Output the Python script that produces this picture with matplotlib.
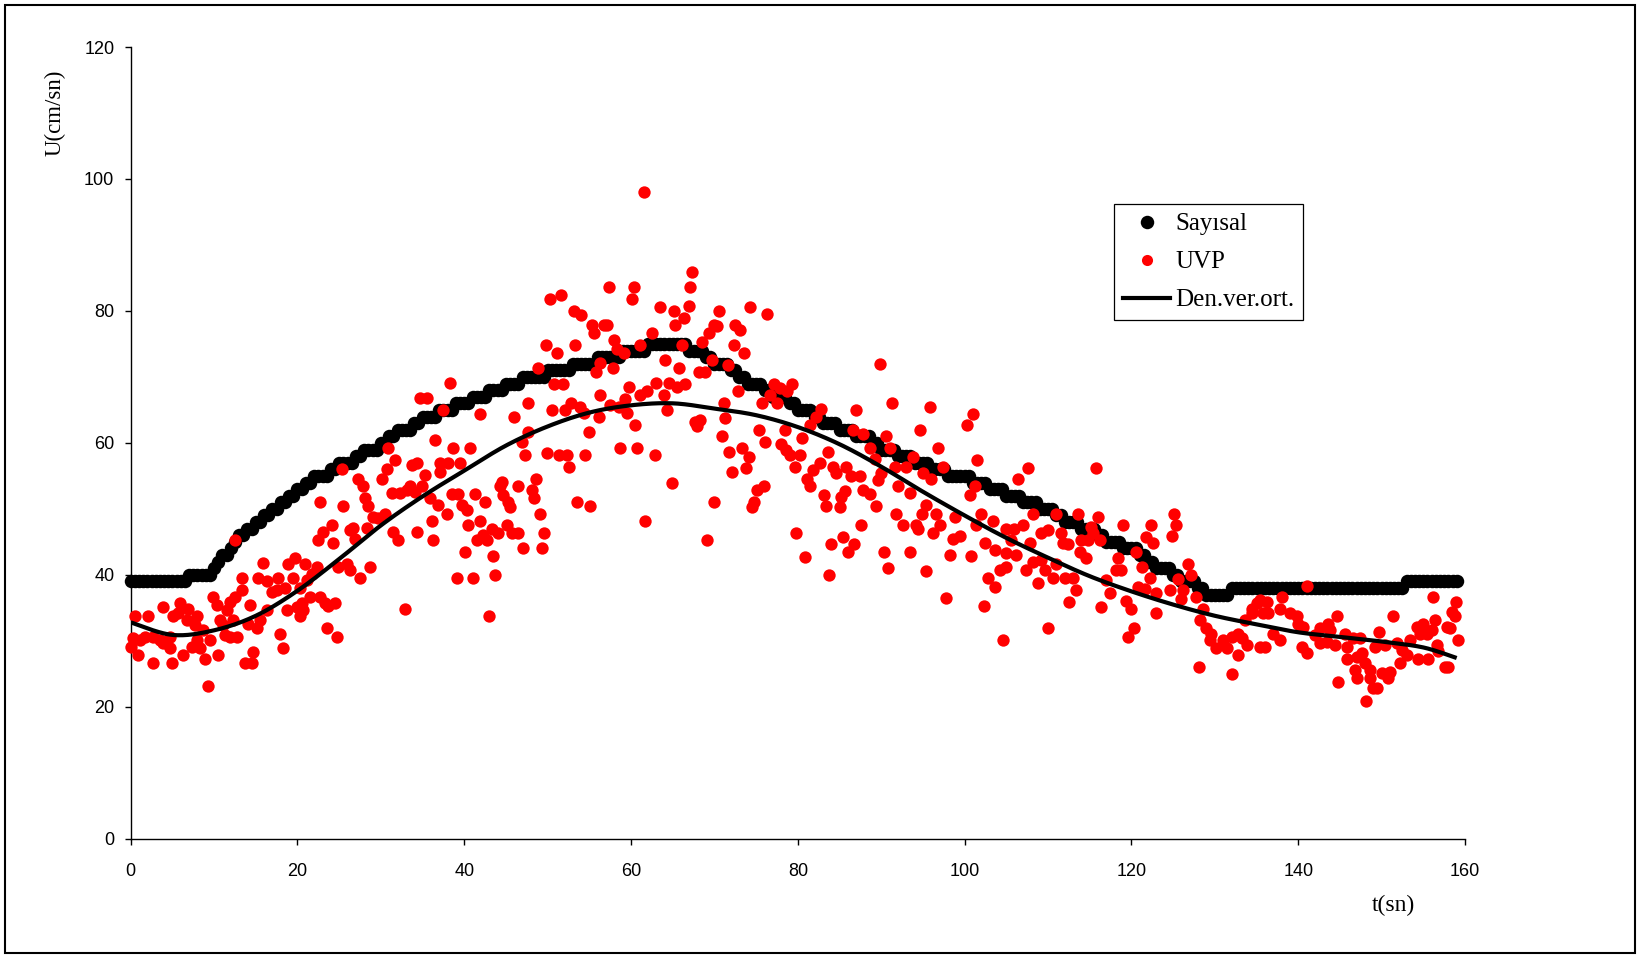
import numpy as np
import matplotlib
matplotlib.use("Agg")
import matplotlib.pyplot as plt
from matplotlib.lines import Line2D
from matplotlib.patches import Rectangle

# ---- Sayısal (numerical model), sampled every 0.5 s from t = 0 to 159 s ----
sayisal_dt = 0.5
sayisal_u = [
    39, 39, 39, 39, 39, 39, 39, 39, 39, 39, 39, 39, 39, 39, 40, 40, 40, 40, 40, 40,
    41, 42, 43, 43, 44, 45, 46, 46, 47, 47, 48, 48, 49, 49, 50, 50, 51, 51, 52, 52,
    53, 53, 54, 54, 55, 55, 55, 55, 56, 56, 57, 57, 57, 57, 58, 58, 59, 59, 59, 59,
    60, 60, 61, 61, 62, 62, 62, 62, 63, 63, 64, 64, 64, 64, 65, 65, 65, 65, 66, 66,
    66, 66, 67, 67, 67, 67, 68, 68, 68, 68, 69, 69, 69, 69, 70, 70, 70, 70, 70, 70,
    71, 71, 71, 71, 71, 71, 72, 72, 72, 72, 72, 72, 73, 73, 73, 73, 73, 73, 74, 74,
    74, 74, 74, 74, 75, 75, 75, 75, 75, 75, 75, 75, 75, 75, 74, 74, 74, 74, 73, 73,
    72, 72, 72, 72, 71, 71, 70, 70, 69, 69, 69, 69, 68, 68, 67, 67, 67, 67, 66, 66,
    65, 65, 65, 65, 64, 64, 63, 63, 63, 63, 62, 62, 62, 62, 61, 61, 61, 61, 60, 60,
    59, 59, 59, 59, 58, 58, 58, 58, 57, 57, 57, 57, 56, 56, 56, 56, 55, 55, 55, 55,
    55, 55, 54, 54, 54, 54, 53, 53, 53, 53, 52, 52, 52, 52, 51, 51, 51, 51, 50, 50,
    50, 50, 49, 49, 48, 48, 48, 48, 47, 47, 47, 47, 46, 46, 45, 45, 45, 45, 44, 44,
    44, 44, 43, 43, 42, 42, 41, 41, 41, 41, 40, 40, 39, 39, 39, 39, 38, 38, 37, 37,
    37, 37, 37, 37, 38, 38, 38, 38, 38, 38, 38, 38, 38, 38, 38, 38, 38, 38, 38, 38,
    38, 38, 38, 38, 38, 38, 38, 38, 38, 38, 38, 38, 38, 38, 38, 38, 38, 38, 38, 38,
    38, 38, 38, 38, 38, 38, 39, 39, 39, 39, 39, 39, 39, 39, 39, 39, 39, 39, 39,
]
sayisal_t = [i * sayisal_dt for i in range(len(sayisal_u))]

# ---- UVP measurements (t [s], U [cm/s]) grouped by time window ----
uvp_0_35 = [
    (30.9, 59.2), (31.7, 57.4), (25.3, 56.1), (33.7, 56.6), (34.3, 56.9), (30.7, 56.1),
    (27.3, 54.6), (27.9, 53.4), (30.1, 54.5), (33.5, 53.4), (34.1, 52.6), (22.7, 51.1),
    (25.5, 50.4), (28.1, 51.6), (28.5, 50.4), (31.3, 52.4), (32.3, 52.4), (33.1, 52.9),
    (12.5, 45.3), (24.1, 47.6), (23.1, 46.5), (22.5, 45.3), (24.3, 44.8), (26.3, 46.8),
    (26.7, 47.1), (26.9, 45.5), (28.3, 47.1), (29.1, 48.8), (29.7, 48.6), (30.5, 49.3),
    (31.5, 46.5), (32.1, 45.3), (34.3, 46.5), (15.9, 41.8), (18.9, 41.7), (19.7, 42.5),
    (20.9, 41.7), (22.3, 41.2), (21.7, 40.2), (24.9, 41.2), (25.9, 41.7), (26.3, 40.7),
    (27.5, 39.5), (28.7, 41.2), (13.3, 39.5), (15.3, 39.5), (16.3, 39.0), (17.7, 39.5),
    (19.5, 39.5), (18.5, 38.0), (16.9, 37.4), (17.5, 37.7), (20.3, 38.0), (21.1, 39.2),
    (13.3, 37.7), (12.5, 36.7), (9.9, 36.7), (10.3, 35.4), (11.9, 35.9), (11.5, 34.7),
    (12.3, 33.2), (14.3, 35.4), (16.3, 34.7), (18.7, 34.7), (19.9, 35.2), (20.5, 35.7),
    (20.7, 34.7), (20.3, 33.7), (22.7, 36.7), (23.3, 35.7), (23.7, 35.3), (24.5, 35.8),
    (21.5, 36.7), (32.9, 34.8), (0.5, 33.7), (2.1, 33.7), (3.9, 35.2), (5.1, 33.7),
    (5.9, 35.7), (6.9, 34.9), (5.7, 34.2), (7.9, 33.7), (8.7, 31.6), (10.7, 33.2),
    (11.1, 32.4), (15.5, 33.2), (15.1, 31.9), (14.1, 32.6), (17.9, 31.1), (11.9, 30.6),
    (12.7, 30.6), (11.3, 30.9), (9.5, 30.1), (23.5, 31.9), (24.7, 30.6), (18.3, 28.9),
    (14.7, 28.3), (13.7, 26.7), (14.5, 26.7), (10.5, 27.8), (8.9, 27.3), (6.3, 27.8),
    (4.9, 26.7), (2.7, 26.7), (0.9, 27.8), (0.0, 29.1), (1.1, 30.1), (2.7, 30.6),
    (3.9, 29.6), (4.7, 28.9), (7.3, 29.1), (8.3, 28.9), (7.9, 30.1), (9.3, 23.1),
    (7.7, 32.4), (6.7, 33.2), (4.7, 30.6), (3.5, 30.1), (1.7, 30.6), (0.3, 30.4),
]
uvp_35_70_low = [
    (38.3, 69.1), (34.7, 66.8), (35.5, 66.8), (37.5, 65.0), (41.9, 64.4), (67.7, 63.2),
    (68.3, 63.5), (67.9, 62.5), (47.7, 61.6), (54.9, 61.6), (60.5, 62.7), (36.5, 60.4),
    (38.7, 59.2), (40.7, 59.2), (46.9, 60.2), (49.9, 58.5), (51.3, 58.1), (52.3, 58.1),
    (52.5, 56.4), (54.5, 58.1), (47.3, 58.1), (58.7, 59.2), (60.7, 59.2), (62.9, 58.1),
    (37.1, 56.9), (38.1, 56.9), (39.5, 56.9), (35.3, 55.1), (37.1, 55.6), (34.9, 53.4),
    (35.9, 51.6), (36.9, 50.6), (37.9, 49.3), (38.5, 52.3), (39.3, 52.3), (41.3, 52.3),
    (39.7, 50.6), (40.3, 49.8), (42.5, 51.0), (44.3, 53.4), (44.5, 54.1), (44.7, 52.1),
    (45.3, 51.1), (45.5, 50.3), (46.5, 53.4), (48.1, 52.9), (48.3, 51.6), (48.6, 54.5),
    (49.1, 49.3), (53.5, 51.0), (55.1, 50.5), (64.9, 54.0), (61.7, 48.1), (69.1, 45.3),
    (36.1, 48.1), (36.3, 45.3), (40.5, 47.6), (41.9, 48.1), (40.1, 43.5), (41.5, 45.3),
    (42.7, 45.3), (42.3, 46.0), (43.3, 47.0), (44.1, 46.4), (45.1, 47.6), (45.7, 46.4),
    (46.5, 46.4), (47.1, 44.0), (49.3, 44.0), (49.5, 46.4), (43.5, 42.9), (39.1, 39.5),
    (41.0, 39.5), (43.7, 40.0), (43.0, 33.7),
]
uvp_45_70_high = [
    (61.5, 98.1), (67.3, 85.9), (67.1, 83.6), (60.3, 83.6), (60.1, 81.8), (57.3, 83.6),
    (50.3, 81.8), (51.6, 82.4), (53.1, 80.0), (54.0, 79.4), (55.3, 77.9), (55.6, 76.6),
    (56.7, 77.9), (57.1, 77.8), (63.5, 80.6), (65.1, 80.0), (66.9, 80.7), (66.3, 79.0),
    (65.3, 77.8), (69.3, 76.6), (68.5, 75.3), (62.5, 76.6), (61.1, 74.8), (66.1, 74.8),
    (49.8, 74.8), (51.1, 73.7), (53.3, 74.8), (58.0, 75.6), (58.3, 74.3), (59.1, 73.7),
    (48.8, 71.4), (56.3, 72.1), (55.8, 70.8), (57.8, 71.3), (64.1, 72.6), (65.7, 71.4),
    (68.1, 70.8), (68.9, 70.8), (50.7, 69.0), (51.8, 69.0), (59.8, 68.5), (63.0, 69.1),
    (64.5, 69.1), (65.5, 68.4), (66.5, 69.0), (61.1, 67.3), (61.9, 67.8), (63.9, 67.3),
    (56.3, 67.3), (47.6, 66.1), (50.5, 65.0), (52.1, 65.0), (52.8, 66.1), (53.9, 65.5),
    (59.3, 66.7), (46.0, 64.0), (64.3, 65.0), (56.1, 63.9), (59.5, 64.5), (54.3, 64.5),
    (57.5, 65.7), (58.5, 65.5),
]
uvp_70_102 = [
    (70.6, 80.0), (74.3, 80.6), (76.3, 79.5), (69.9, 77.9), (70.3, 77.7), (72.5, 77.9),
    (73.1, 77.1), (72.3, 74.8), (73.5, 73.7), (69.7, 72.6), (71.6, 71.8), (72.8, 67.9),
    (77.1, 68.9), (77.8, 68.3), (79.3, 69.0), (78.7, 67.8), (76.7, 67.3), (75.7, 66.1),
    (77.5, 66.1), (71.1, 66.1), (89.8, 71.9), (82.8, 65.1), (82.2, 64.0), (81.5, 62.7),
    (87.0, 65.0), (91.3, 66.1), (95.8, 65.5), (101.0, 64.4), (100.3, 62.7), (71.3, 63.8),
    (70.9, 61.0), (75.3, 62.0), (76.0, 60.2), (78.5, 62.0), (80.5, 60.7), (86.6, 61.9),
    (87.8, 61.4), (90.6, 61.0), (94.6, 61.9), (91.0, 59.2), (88.6, 59.2), (89.2, 57.5),
    (91.6, 56.4), (93.0, 56.4), (93.8, 57.9), (96.8, 59.2), (95.0, 55.4), (96.0, 54.6),
    (97.4, 56.4), (101.5, 57.4), (100.6, 52.1), (101.2, 53.4), (71.8, 58.6), (73.3, 59.2),
    (74.1, 57.9), (72.1, 55.6), (73.8, 56.2), (78.0, 59.9), (78.6, 58.9), (79.1, 58.1),
    (80.2, 58.1), (79.6, 56.3), (81.1, 54.6), (81.5, 53.4), (81.8, 55.9), (82.6, 57.0),
    (83.6, 58.6), (84.2, 56.4), (84.6, 55.4), (85.8, 56.4), (86.4, 55.0), (87.4, 55.0),
    (89.6, 54.4), (90.0, 55.4), (92.0, 53.4), (93.4, 52.4), (95.4, 50.6), (94.9, 49.3),
    (96.6, 49.3), (96.2, 46.4), (97.0, 47.5), (98.6, 45.5), (99.5, 45.9), (98.8, 48.8),
    (101.4, 47.5), (100.8, 42.9), (75.1, 52.9), (75.9, 53.4), (74.7, 51.1), (74.5, 50.3),
    (70.0, 51.1), (79.8, 46.4), (80.8, 42.7), (83.1, 52.1), (83.4, 50.4), (85.0, 50.3),
    (85.2, 51.8), (85.6, 52.7), (87.8, 52.9), (88.6, 52.3), (89.4, 50.4), (87.6, 47.5),
    (85.4, 45.8), (84.0, 44.7), (86.7, 44.7), (86.0, 43.5), (90.3, 43.5), (93.4, 43.5),
    (91.8, 49.3), (92.6, 47.5), (94.2, 47.5), (94.4, 46.9), (98.2, 43.0), (83.7, 40.0),
]
uvp_90_123 = [
    (107.6, 56.2), (106.4, 54.5), (115.8, 56.2), (102.0, 49.3), (103.4, 48.2), (105.0, 47.0),
    (105.9, 47.0), (107.0, 47.6), (105.6, 45.3), (108.2, 49.3), (111.0, 49.3), (113.6, 49.3),
    (116.0, 48.8), (119.0, 47.6), (122.3, 47.6), (121.8, 45.8), (122.6, 44.8), (120.5, 43.5),
    (121.3, 41.2), (122.2, 39.5), (109.2, 46.4), (110.0, 46.8), (111.6, 46.4), (111.8, 44.8),
    (112.4, 44.7), (107.8, 44.8), (114.0, 45.3), (114.8, 45.3), (115.4, 46.4), (115.1, 47.3),
    (113.8, 43.5), (114.6, 42.5), (116.2, 45.3), (118.4, 42.5), (118.1, 40.7), (118.8, 40.7),
    (117.0, 39.2), (117.4, 37.2), (116.4, 35.2), (119.4, 36.1), (120.0, 34.8), (120.8, 38.2),
    (121.6, 37.9), (123.0, 37.2), (123.0, 34.2), (120.3, 31.9), (119.6, 30.6), (102.4, 44.8),
    (103.6, 43.8), (105.0, 43.3), (106.2, 43.0), (104.2, 40.7), (102.8, 39.5), (103.6, 38.2),
    (105.0, 41.2), (107.4, 40.7), (108.2, 42.0), (109.2, 42.3), (109.6, 40.7), (110.6, 39.5),
    (108.8, 38.8), (111.0, 41.7), (112.0, 39.5), (113.0, 39.5), (113.4, 37.7), (112.5, 35.9),
    (97.8, 36.5), (102.3, 35.3), (110.0, 31.9), (104.6, 30.1), (95.4, 40.6), (90.8, 41.1),
]
uvp_123_141 = [
    (125.1, 49.3), (125.4, 47.5), (124.9, 45.9), (126.8, 41.7), (127.1, 40.0), (125.6, 39.4),
    (124.6, 37.7), (126.2, 37.7), (126.0, 36.4), (127.8, 36.7), (128.6, 34.9), (128.2, 33.2),
    (129.0, 31.9), (129.6, 31.1), (129.4, 30.1), (130.2, 28.9), (131.0, 30.1), (131.4, 28.9),
    (132.0, 30.6), (132.8, 31.1), (133.2, 30.4), (132.8, 27.8), (133.8, 29.4), (133.6, 33.2),
    (134.4, 34.2), (135.0, 35.7), (135.4, 36.2), (136.2, 35.9), (134.4, 34.9), (135.8, 34.2),
    (136.4, 34.2), (135.4, 29.1), (136.0, 29.1), (137.0, 31.1), (137.8, 30.1), (138.0, 36.7),
    (137.8, 34.9), (139.0, 34.2), (139.8, 33.7), (140.0, 32.6), (140.6, 32.1), (140.4, 29.1),
    (141.0, 28.1), (128.1, 26.1), (132.1, 25.0), (141.0, 38.3),
]
uvp_141_160 = [
    (144.6, 33.7), (143.6, 32.6), (142.6, 31.9), (143.8, 31.6), (142.0, 30.9), (142.6, 29.6),
    (143.4, 29.9), (145.6, 31.1), (146.6, 30.4), (147.4, 30.4), (145.8, 29.1), (144.4, 29.4),
    (144.8, 23.8), (145.8, 27.3), (147.0, 27.6), (147.6, 28.1), (148.0, 26.6), (146.8, 25.6),
    (147.0, 24.3), (148.6, 25.6), (148.6, 24.3), (149.0, 22.8), (149.4, 22.8), (148.1, 20.9),
    (149.7, 31.4), (149.2, 29.1), (150.4, 29.4), (150.0, 25.1), (151.0, 25.3), (150.8, 24.3),
    (151.4, 33.7), (151.8, 29.6), (152.4, 28.6), (152.2, 26.6), (153.0, 27.9), (153.4, 30.1),
    (154.2, 32.1), (154.6, 31.1), (155.0, 32.6), (155.4, 31.1), (156.0, 31.6), (154.4, 27.3),
    (155.6, 27.3), (156.2, 36.7), (156.4, 33.2), (156.6, 29.4), (156.8, 28.4), (157.6, 26.1),
    (158.0, 26.1), (157.8, 32.1), (158.2, 31.9), (158.9, 35.9), (158.4, 34.4), (158.8, 33.7),
    (159.2, 30.1),
]

# ---- Den.ver.ort. (experimental average curve) ----
avg_t = [0, 5, 10, 15, 20, 25, 30, 35, 40, 45, 50, 55, 60, 65, 70, 75, 80, 85,
         90, 95, 100, 105, 110, 115, 120, 125, 130, 135, 140, 145, 150, 155, 159]
avg_u = [32.8, 30.9, 31.6, 33.8, 37.6, 42.4, 47.5, 51.9, 55.8, 59.6, 62.5, 64.6,
         65.7, 66.0, 65.2, 64.2, 62.4, 59.8, 56.4, 52.6, 49.0, 45.6, 42.6, 39.8,
         37.5, 35.5, 33.8, 32.5, 31.3, 30.6, 29.9, 29.0, 27.4]

x_ticks = [0, 20, 40, 60, 80, 100, 120, 140, 160]
y_ticks = [0, 20, 40, 60, 80, 100, 120]


def smooth_curve(x, y, n=24):
    """Catmull-Rom smoothing through the given points (spreadsheet-style smoothed line)."""
    p = np.column_stack([x, y]).astype(float)
    p = np.vstack([p[0], p, p[-1]])
    out = []
    s = np.linspace(0, 1, n, endpoint=False)[:, None]
    for i in range(1, len(p) - 2):
        p0, p1, p2, p3 = p[i - 1], p[i], p[i + 1], p[i + 2]
        seg = 0.5 * ((2 * p1) + (-p0 + p2) * s + (2 * p0 - 5 * p1 + 4 * p2 - p3) * s ** 2
                     + (-p0 + 3 * p1 - 3 * p2 + p3) * s ** 3)
        out.append(seg)
    out.append(p[-2][None, :])
    out = np.vstack(out)
    return out[:, 0], out[:, 1]


uvp_all = (uvp_0_35 + uvp_35_70_low + uvp_45_70_high + uvp_70_102
           + uvp_90_123 + uvp_123_141 + uvp_141_160)
uvp_t = [p[0] for p in uvp_all]
uvp_u = [p[1] for p in uvp_all]

fig = plt.figure(figsize=(16.4, 9.56), dpi=100)
ax = fig.add_axes([0.0797, 0.1226, 0.8136, 0.8282])

ax.plot(sayisal_t, sayisal_u, linestyle="None", marker="o", markersize=9.7,
        color="black", markeredgewidth=0, clip_on=False, zorder=2)
ax.plot(uvp_t, uvp_u, linestyle="None", marker="o", markersize=8.9,
        color="#ff0000", markeredgewidth=0, clip_on=False, zorder=3)
sx, sy = smooth_curve(avg_t, avg_u)
ax.plot(sx, sy, color="black", linewidth=3.0, solid_capstyle="butt", zorder=4)

ax.set_xlim(0, 160)
ax.set_ylim(0, 120)
ax.set_xticks(x_ticks)
ax.set_yticks(y_ticks)
for side in ("top", "right"):
    ax.spines[side].set_visible(False)
for side in ("left", "bottom"):
    ax.spines[side].set_linewidth(1.0)
    ax.spines[side].set_color("black")
ax.tick_params(axis="both", direction="out", length=4.3, width=1.0, color="black",
               labelsize=13, labelcolor="black")
ax.tick_params(axis="y", pad=7.5)
ax.tick_params(axis="x", pad=13)
for lab in ax.get_xticklabels() + ax.get_yticklabels():
    lab.set_fontfamily("Liberation Sans")

serif = "Liberation Serif"
ax.text(-0.0567, 0.9166, "U(cm/sn)", transform=ax.transAxes, rotation=90,
        ha="center", va="center", fontsize=16.5, fontfamily=serif)
ax.text(0.946, -0.0836, "t(sn)", transform=ax.transAxes,
        ha="center", va="center", fontsize=17, fontfamily=serif)

handles = [
    Line2D([], [], linestyle="None", marker="o", markersize=9.7, color="black",
           markeredgewidth=0),
    Line2D([], [], linestyle="None", marker="o", markersize=8.0, color="#ff0000",
           markeredgewidth=0),
    Line2D([], [], color="black", linewidth=3.0),
]
leg = ax.legend(handles, ["Sayısal", "UVP", "Den.ver.ort."], loc="upper left",
                bbox_to_anchor=(0.737, 0.8017), borderaxespad=0, frameon=True,
                fancybox=False, framealpha=1, edgecolor="black",
                prop={"family": serif, "size": 18}, handlelength=1.9,
                handletextpad=0.2, labelspacing=0.62, borderpad=0.35)
leg.get_frame().set_linewidth(0.9)

fig.add_artist(Rectangle((0.003, 0.003), 0.994, 0.992, transform=fig.transFigure,
                         fill=False, edgecolor="black", linewidth=1.5))

fig.savefig("out.png", dpi=100, facecolor="white")
